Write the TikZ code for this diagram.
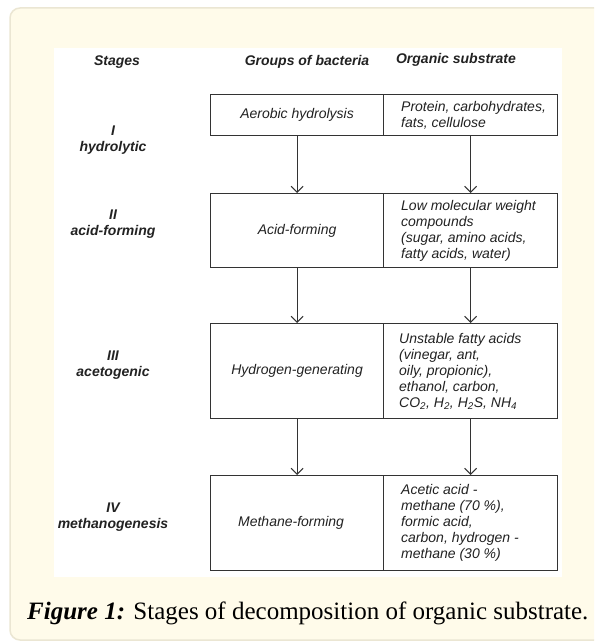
\documentclass[tikz,border=0pt]{standalone}
\usepackage{fontspec}
\setmainfont{Liberation Serif}
\newfontfamily\arial{Liberation Sans}
\usetikzlibrary{arrows.meta}
\definecolor{panelfill}{HTML}{FFFBEA}
\definecolor{panelline}{HTML}{EBE6D3}
\definecolor{ink}{HTML}{333333}
\definecolor{txtc}{HTML}{222222}
\begin{document}
\begin{tikzpicture}[x=1pt,y=-1pt,
  body/.style={font=\arial\itshape\fontsize{14}{16}\selectfont, text=txtc, inner sep=0pt},
  rtxt/.style={body, align=left, anchor=west},
  hdr/.style={font=\arial\bfseries\itshape\fontsize{14}{16}\selectfont, text=txtc, inner sep=0pt, align=center},
  cell/.style={draw=ink, line width=1.1pt, rectangle, inner sep=0pt, anchor=north west},
  flow/.style={draw=ink, line width=1.1pt, -{Straight Barb[length=6pt,width=12pt,line width=1.1pt]}}]
\useasboundingbox (0,0) rectangle (594,642);
\begin{scope}
\clip (0,0) rectangle (594,642);
\draw[panelline, fill=panelfill, line width=1.5pt, rounded corners=10pt] (10,8) rectangle (640,640);
\end{scope}
\fill[white] (54,48) rectangle (562,577);

% headers
\node[hdr] (hs) at (117,62) {Stages};
\node[hdr] (hg) at (307,62) {Groups of bacteria};
\node[hdr] (ho) at (456,60) {Organic substrate};

% stage labels
\node[hdr] (s1) at (113,140) {I\\hydrolytic};
\node[hdr] (s2) at (113,224) {II\\acid-forming};
\node[hdr] (s3) at (113,365) {III\\acetogenic};
\node[hdr] (s4) at (113,517) {IV\\methanogenesis};

% cells
\node[cell, minimum width=173pt, minimum height=41pt] (l1) at (210,94) {};
\node[cell, minimum width=174pt, minimum height=41pt] (r1) at (383,94) {};
\node[cell, minimum width=173pt, minimum height=74pt] (l2) at (210,193) {};
\node[cell, minimum width=174pt, minimum height=74pt] (r2) at (383,193) {};
\node[cell, minimum width=173pt, minimum height=95pt] (l3) at (210,323) {};
\node[cell, minimum width=174pt, minimum height=95pt] (r3) at (383,323) {};
\node[cell, minimum width=173pt, minimum height=95pt] (l4) at (210,475) {};
\node[cell, minimum width=174pt, minimum height=95pt] (r4) at (383,475) {};

% cell texts
\node[body] (tl1) at (l1.center) {Aerobic hydrolysis};
\node[body] (tl2) at (l2.center) {Acid-forming};
\node[body] (tl3) at (l3.center) {Hydrogen-generating};
\node[body] (tl4) at ([xshift=-6pt]l4.center) {Methane-forming};

\node[rtxt] (tr1) at ([xshift=18pt]r1.west) {Protein, carbohydrates,\\fats, cellulose};
\node[rtxt] (tr2) at ([xshift=18pt]r2.west) {Low molecular weight\\compounds\\(sugar, amino acids,\\fatty acids, water)};
\node[rtxt] (tr3) at ([xshift=16pt]r3.west) {Unstable fatty acids\\(vinegar, ant,\\oily, propionic),\\ethanol, carbon,\\CO\textsubscript{2}, H\textsubscript{2}, H\textsubscript{2}S, NH\textsubscript{4}};
\node[rtxt] (tr4) at ([xshift=18pt]r4.west) {Acetic acid -\\methane (70 \%),\\formic acid,\\carbon, hydrogen -\\methane (30 \%)};

% arrows
\draw[flow] (l1.south) -- (l2.north);
\draw[flow] (r1.south) -- (r2.north);
\draw[flow] (l2.south) -- (l3.north);
\draw[flow] (r2.south) -- (r3.north);
\draw[flow] (l3.south) -- (l4.north);
\draw[flow] (r3.south) -- (r4.north);

% caption
\node[anchor=base west, inner sep=0pt, font=\fontsize{25}{28}\selectfont, text=black] (cap) at (27,619)
  {\textbf{\textit{Figure 1:}} Stages of decomposition of organic substrate.};
\end{tikzpicture}
\end{document}
